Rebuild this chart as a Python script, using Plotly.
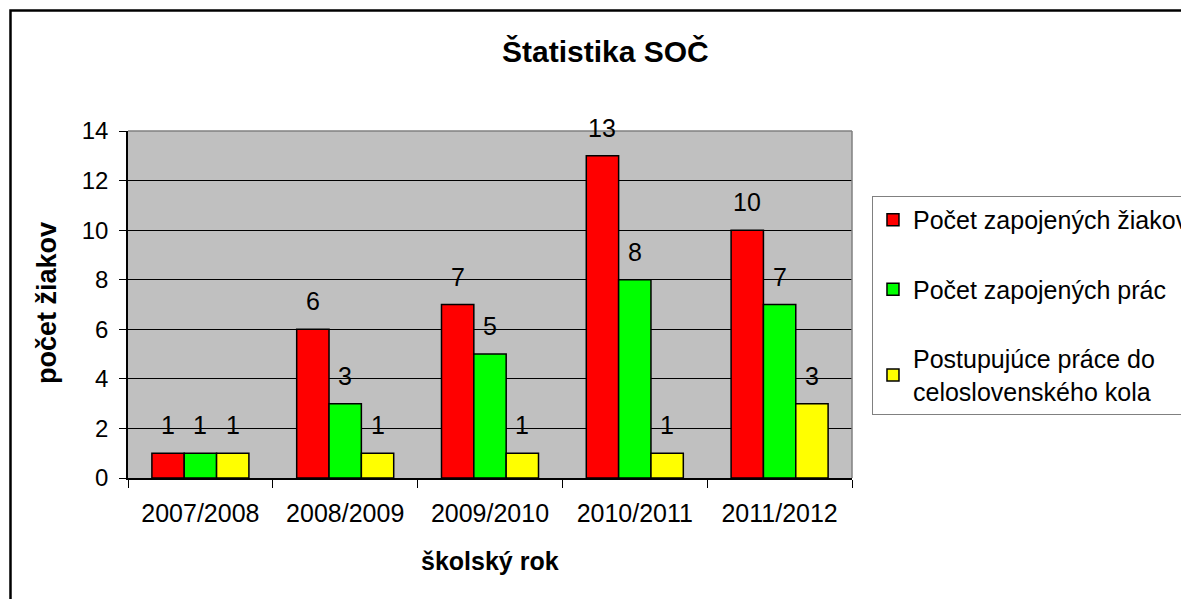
import plotly.graph_objects as go

years = ["2007/2008", "2008/2009", "2009/2010", "2010/2011", "2011/2012"]
series_names = ["Počet zapojených žiakov", "Počet zapojených prác",
                "Postupujúce práce do<br>celoslovenského kola"]
students = [1, 6, 7, 13, 10]
works = [1, 3, 5, 8, 7]
advancing = [1, 1, 1, 1, 3]
colors = ["#FF0000", "#00FF00", "#FFFF00"]
y_ticks = [0, 2, 4, 6, 8, 10, 12, 14]

FONT = "Liberation Sans, Arial, sans-serif"
BARGAP = 0.33
values = [students, works, advancing]
xpos = list(range(len(years)))

fig = go.Figure()
for i, (name, vals, col) in enumerate(zip(series_names, values, colors)):
    fig.add_trace(go.Bar(
        x=xpos, y=vals, name=name, legendgroup=str(i),
        marker=dict(color=col, line=dict(color="black", width=1.5)),
    ))

w = (1 - BARGAP) / 3
annotations = []
for i, vals in enumerate(values):
    for j, v in enumerate(vals):
        annotations.append(dict(
            x=j + (i - 1) * w, y=v, xref="x", yref="y", text=str(v),
            showarrow=False, yshift=28, xanchor="center", yanchor="middle",
            font=dict(family=FONT, size=25, color="black"),
        ))

annotations += [
    dict(text="<b>Štatistika SOČ</b>", x=0.659, y=1.228, xref="paper", yref="paper",
         xanchor="center", yanchor="middle",
         showarrow=False, font=dict(family=FONT, size=30, color="black")),
    dict(text="<b>počet žiakov</b>", x=-0.1119, y=0.504, xref="paper", yref="paper",
         xanchor="center", yanchor="middle",
         showarrow=False, textangle=-90, font=dict(family=FONT, size=27, color="black")),
    dict(text="<b>školský rok</b>", x=0.5, y=-0.239, xref="paper", yref="paper",
         xanchor="center", yanchor="middle",
         showarrow=False, font=dict(family=FONT, size=25, color="black")),
]

shapes = [
    # outer chart border (right/bottom edges fall outside the picture)
    dict(type="rect", xref="paper", yref="paper", x0=-0.1623, y0=-0.6, x1=1.6, y1=1.3473,
         line=dict(color="black", width=2.5), layer="below"),
    # plot area top/right border in gray
    dict(type="line", xref="paper", yref="paper", x0=0, x1=1, y0=1, y1=1,
         line=dict(color="#808080", width=1.5), layer="above"),
    dict(type="line", xref="paper", yref="paper", x0=1, x1=1, y0=0, y1=1,
         line=dict(color="#808080", width=1.5), layer="above"),
]

fig.update_layout(
    width=1181, height=591,
    margin=dict(l=120, r=337, t=123, b=121, autoexpand=False),
    paper_bgcolor="white", plot_bgcolor="#C0C0C0",
    barmode="group", bargap=BARGAP, bargroupgap=0,
    font=dict(family=FONT, size=25, color="black"),
    showlegend=True,
    legend=dict(x=1.0276, y=0.8127, xanchor="left", yanchor="top",
                bordercolor="#808080", borderwidth=1, bgcolor="white",
                font=dict(family=FONT, size=25, color="black"),
                tracegroupgap=34, traceorder="grouped", itemclick=False),
    annotations=annotations,
    shapes=shapes,
    xaxis=dict(range=[-0.5, len(years) - 0.5], tickmode="array", tickvals=xpos, ticktext=years,
               ticks="", showgrid=False, zeroline=False,
               showline=True, linecolor="black", linewidth=1.5,
               tickfont=dict(family=FONT, size=25, color="black"),
               ticklabelstandoff=12,
               minor=dict(tickmode="linear", tick0=-0.5, dtick=1, ticks="outside",
                          ticklen=8, tickcolor="black", tickwidth=1.2, showgrid=False)),
    yaxis=dict(range=[0, 14], tickmode="array", tickvals=y_ticks,
               ticks="outside", ticklen=7, tickcolor="black", tickwidth=1.2,
               showgrid=True, gridcolor="black", gridwidth=1, zeroline=False,
               showline=True, linecolor="black", linewidth=1.5,
               tickfont=dict(family=FONT, size=24, color="black"),
               ticklabelstandoff=6),
)

fig.write_html("out.html")
